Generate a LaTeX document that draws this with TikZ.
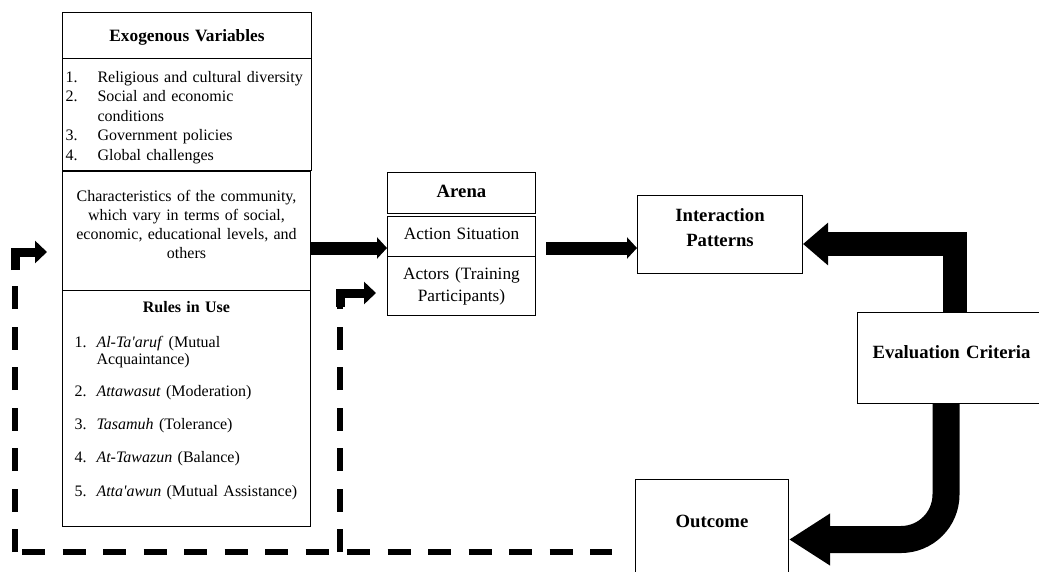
\documentclass[tikz,border=0pt]{standalone}
\usepackage{fontspec}
\setmainfont{Liberation Serif}
\usetikzlibrary{arrows.meta}
\tikzset{
   box/.style={draw=black, line width=1pt, inner sep=0pt, anchor=north west},
   flow/.style={line width=13pt, -{Triangle[length=10pt,width=21pt]}},
   evalflow/.style={line width=#1, line join=miter},
   feedback/.style={line width=6pt, dash pattern=on 23pt off 17.5pt},
   feedhook/.style={line width=9pt, line join=miter,
      -{Triangle[length=12pt,width=22pt]}},
}
\newcommand\bodyfont{\fontsize{16}{19.5}\selectfont}
\newcommand\listno[1]{\makebox[32pt][l]{#1}}
\newcommand\ruleitem[2]{\noindent\makebox[22pt][l]{#1}\parbox[t]{215pt}{\raggedright #2}\par}

\begin{document}
\begin{tikzpicture}[x=1pt,y=-1pt]
            \useasboundingbox (0,0) rectangle (1039,571);
            \node[box, text width=249pt, align=center, text height=29pt, text depth=17pt,
               font={\fontsize{17.3}{21}\selectfont\bfseries}] (exohead) at (62,12) {Exogenous Variables};
            \node[box, text width=243pt, inner xsep=3pt, align=left, text height=23.5pt, text depth=88.5pt,
               font=\bodyfont] (exolist) at (62,58)
               {\listno{1.}Religious and cultural diversity\\
                \listno{2.}Social and economic\\
                \hspace*{32pt}conditions\\
                \listno{3.}Government policies\\
                \listno{4.}Global challenges};
            \node[box, text width=248pt, align=center, text height=30pt, text depth=89pt,
               font={\fontsize{16}{19}\selectfont}] (chars) at (62,171)
               {Characteristics of the community,\\ which vary in terms of social,\\
                economic, educational levels, and\\ others};
            \node[box, text width=224pt, inner xsep=12pt, text height=22pt, text depth=214pt,
               font={\fontsize{16}{17}\selectfont}] (rules) at (62,290)
               {{\centering\bfseries Rules in Use\par}\vspace{18pt}
                \ruleitem{1.}{\textit{Al-Ta\textquotesingle aruf} (Mutual\\Acquaintance)}\vspace{16.25pt}
                \ruleitem{2.}{\textit{Attawasut} (Moderation)}\vspace{16.25pt}
                \ruleitem{3.}{\textit{Tasamuh} (Tolerance)}\vspace{16.25pt}
                \ruleitem{4.}{\textit{At-Tawazun} (Balance)}\vspace{16.25pt}
                \ruleitem{5.}{\textit{Atta\textquotesingle awun} (Mutual Assistance)}};
            \node[box, text width=148pt, align=center, text height=25pt, text depth=16pt,
               font={\fontsize{18.7}{22}\selectfont\bfseries}] (arena) at (387,172) {Arena};
            \node[box, text width=148pt, align=center, text height=23pt, text depth=17pt,
               font={\fontsize{17.3}{22}\selectfont}] (action) at (387,216) {Action Situation};
            \node[box, text width=148pt, align=center, text height=23pt, text depth=36pt,
               font={\fontsize{17.3}{22}\selectfont}] (actors) at (387,256) {Actors (Training\\ Participants)};
            \node[box, text width=165pt, align=center, text height=26pt, text depth=52pt,
               font={\fontsize{18.7}{25}\selectfont\bfseries}] (interact) at (637,195) {Interaction\\ Patterns};
            \node[box, text width=188pt, align=center, text height=46pt, text depth=45pt,
               font={\fontsize{18.7}{22}\selectfont\bfseries}] (evalcrit) at (857,312) {Evaluation Criteria};
            \node[box, text width=153pt, align=center, text height=48pt, text depth=120pt,
               font={\fontsize{18.7}{22}\selectfont\bfseries}] (outcome) at (635,479) {Outcome};

            \coordinate (c1) at ([yshift=-17pt]chars.east);
            \coordinate (c2) at (c1 -| action.east);
            \draw[flow] (c1) -- (c1 -| action.west);
            \draw[flow] ([xshift=10pt]c2) -- (c1 -| interact.west);
            \draw[evalflow=24pt, -{Triangle[length=25pt,width=41pt]}]
               ([xshift=3.5pt]evalcrit.north) |- ([yshift=-9.5pt]interact.east);
            \draw[evalflow=27pt, rounded corners=45pt, -{Triangle[length=41pt,width=49pt]}]
               ([xshift=-5.5pt]evalcrit.south) |- ([yshift=-60.5pt]outcome.north east);

            \coordinate (fbR) at (612,552);
            \coordinate (fbL) at (15,552);
            \coordinate (fbM) at (340,552);
            \coordinate (hookL) at (15,270);
            \coordinate (hookM) at (340,307);
            \coordinate (tipL) at (47,252);
            \coordinate (tipM) at (376,293);
            \draw[feedback, dash phase=33.5pt] (fbL) -- (fbM) (fbM) -- (fbR);
            \draw[feedback] (fbL) -- (hookL) (fbM) -- (hookM);
            \draw[feedhook] (hookL) |- (tipL);
            \draw[feedhook] (hookM) |- (tipM);
        \end{tikzpicture}
\end{document}
